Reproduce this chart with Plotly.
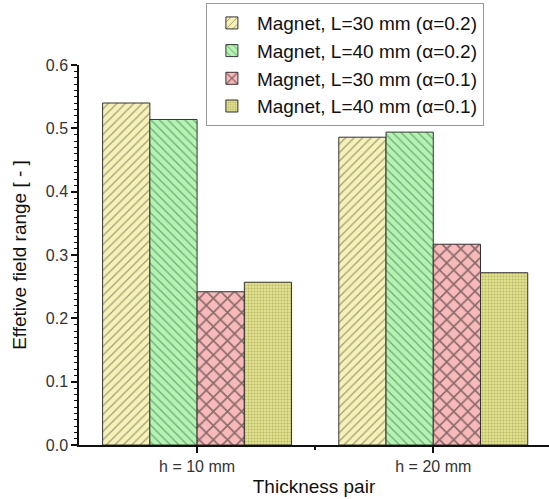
import plotly.graph_objects as go

categories = ["h = 10 mm", "h = 20 mm"]
series_names = [
    "Magnet, L=30 mm (α=0.2)",
    "Magnet, L=40 mm (α=0.2)",
    "Magnet, L=30 mm (α=0.1)",
    "Magnet, L=40 mm (α=0.1)",
]
values_l30_a02 = [0.540, 0.486]
values_l40_a02 = [0.514, 0.494]
values_l30_a01 = [0.242, 0.317]
values_l40_a01 = [0.257, 0.272]
y_tick_vals = [0.0, 0.1, 0.2, 0.3, 0.4, 0.5, 0.6]

all_values = [values_l30_a02, values_l40_a02, values_l30_a01, values_l40_a01]
fills = ["#f6f1b6", "#b3f4b3", "#f7b9b9", "#e2e28c"]
fgs = ["#4a4a40", "#2f5a38", "#1a1a1a", "#8c8c50"]
shapes = ["/", "\\", "x", "."]
sizes = [6, 6, 10, 3]
solid = [0.2, 0.2, 0.3, 0.35]

xpos = list(range(len(categories)))

fig = go.Figure()
for i, (name, vals) in enumerate(zip(series_names, all_values)):
    fig.add_trace(go.Bar(
        x=xpos, y=vals, name=name,
        marker=dict(
            color=fills[i],
            line=dict(color="#333333", width=1),
            pattern=dict(shape=shapes[i], fgcolor=fgs[i], bgcolor=fills[i],
                         size=sizes[i], solidity=solid[i], fillmode="overlay"),
        ),
    ))

fig.update_layout(
    width=549, height=499,
    barmode="group", bargap=0.2, bargroupgap=0,
    margin=dict(l=79, r=0, t=65, b=54),
    plot_bgcolor="white", paper_bgcolor="white",
    font=dict(family="Arial, Liberation Sans, sans-serif", color="#222222"),
    legend=dict(
        x=0.27, y=1.163, xanchor="left", yanchor="top",
        bordercolor="#999999", borderwidth=1, bgcolor="white",
        font=dict(size=19, color="#111111"),
        tracegroupgap=0, itemwidth=40,
    ),
    showlegend=True,
)
fig.update_xaxes(
    range=[-0.5, 1.49],
    tickmode="array", tickvals=xpos, ticktext=categories,
    ticks="outside", ticklen=6, tickwidth=1.5, tickcolor="#111111",
    showline=True, linecolor="#111111", linewidth=1.5,
    showgrid=False, zeroline=False,
    tickfont=dict(size=16, color="#333333"),
    title=dict(text="Thickness pair", font=dict(size=19, color="#111111"), standoff=6),
    minor=dict(tickmode="array", tickvals=[0.5], ticks="outside", ticklen=3,
               tickwidth=1.5, tickcolor="#111111"),
)
fig.update_yaxes(
    range=[0, 0.6],
    tickmode="array", tickvals=y_tick_vals,
    ticktext=[f"{v:.1f}" for v in y_tick_vals],
    ticks="outside", ticklen=6, tickwidth=1.5, tickcolor="#111111",
    showline=True, linecolor="#111111", linewidth=1.5,
    showgrid=False, zeroline=False,
    tickfont=dict(size=16, color="#333333"),
    title=dict(text="Effetive field range [ - ]", font=dict(size=19, color="#111111"), standoff=14),
    minor=dict(dtick=0.01, ticks="outside", ticklen=3, tickwidth=1, tickcolor="#111111"),
)

fig.write_html("out.html")
